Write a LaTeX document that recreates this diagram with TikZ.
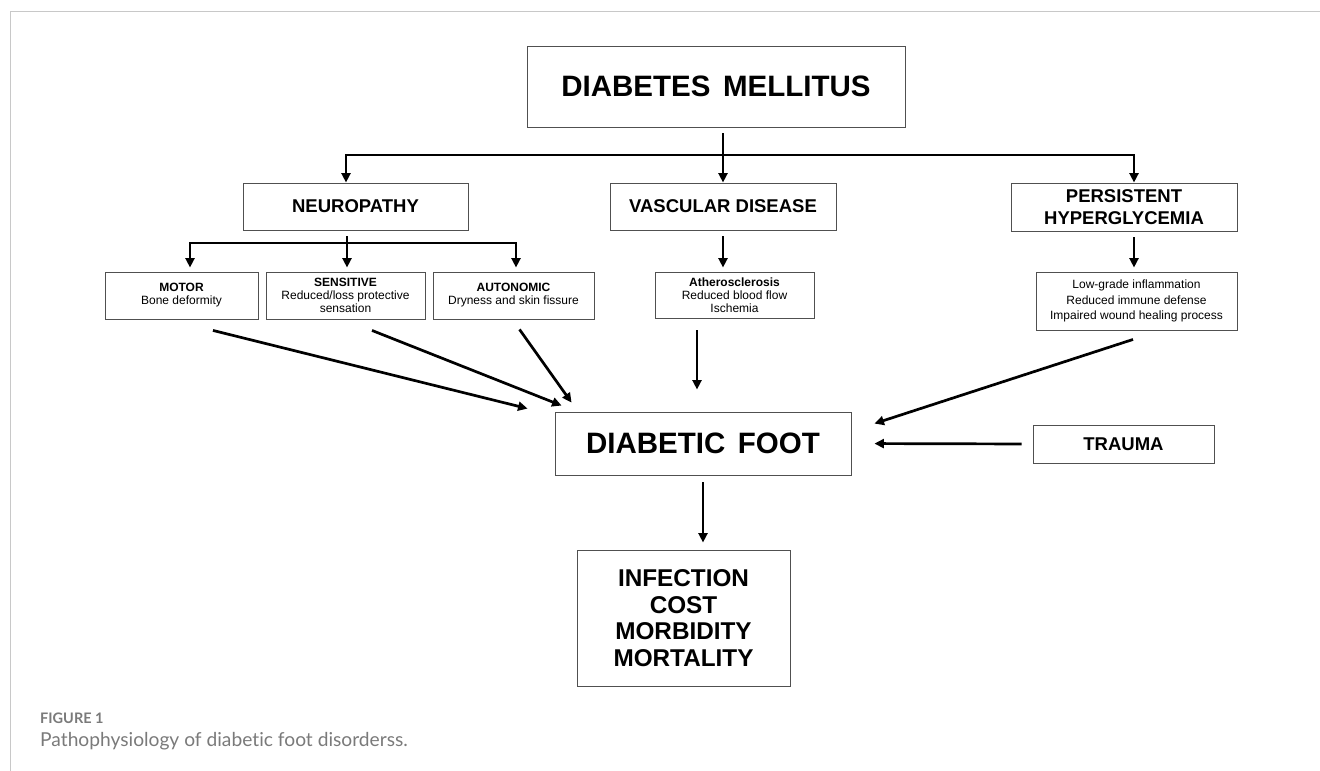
\documentclass[tikz,border=0pt]{standalone}
\usepackage{fontspec}
\setmainfont{Liberation Sans}
\newfontfamily\captionfont[Ligatures=NoCommon]{Lato}
\usetikzlibrary{arrows.meta}
\definecolor{framegray}{HTML}{C8C8C8}
\definecolor{boxgray}{HTML}{505050}
\definecolor{captiongray}{HTML}{7A7A7A}
\newcommand{\setfs}[2]{\fontsize{#1}{#2}\selectfont}
\tikzset{%
  every node/.style={
    inner sep=1pt
  },
  box/.style={draw=boxgray, line width=0.9pt, align=center},
  bigbox/.style={box, font=\setfs{29.5}{32}\bfseries},
  midbox/.style={box, font=\setfs{18.5}{22.5}\bfseries},
  smallbox/.style={box, font=\setfs{12}{13}},
  conn/.style={line width=2.7pt},
  bus/.style={conn, line cap=rect},
  arr/.style={conn, -{Triangle[length=9.5pt,width=9pt]}}
}

\begin{document}
\begin{tikzpicture}[x=1pt, y=-1pt]
  \useasboundingbox (0,0) rectangle (1320,771);
  \draw[framegray, line width=1pt] (10,771) -- (10,11) -- (1320,11);

  % boxes
  \node[bigbox, minimum width=378pt, minimum height=81pt] at (716,86.5) (dm) {DIABETES\hspace{0.15em} MELLITUS};
  \node[midbox, minimum width=225pt, minimum height=47pt] at (355.5,206.5) (neuro) {NEUROPATHY};
  \node[midbox, minimum width=226pt, minimum height=47pt] at (723,206.5) (vasc) {VASCULAR DISEASE};
  \node[midbox, minimum width=226pt, minimum height=48pt] at (1124,207) (pers) {PERSISTENT\\HYPERGLYCEMIA};
  \node[smallbox, minimum width=153pt, minimum height=47pt] at (181.5,295.5) (motor) {{\bfseries MOTOR}\\Bone deformity};
  \node[smallbox, minimum width=159pt, minimum height=47pt] at (345.5,295.5) (sens) {{\bfseries SENSITIVE}\\Reduced/loss protective\\sensation};
  \node[smallbox, minimum width=161pt, minimum height=47pt] at (513.5,295.5) (auto) {{\bfseries AUTONOMIC}\\Dryness and skin fissure};
  \node[smallbox, minimum width=159pt, minimum height=46pt] at (734.5,295) (ather) {{\bfseries Atherosclerosis}\\Reduced blood flow\\Ischemia};
  \node[smallbox, minimum width=201pt, minimum height=58pt, font=\setfs{12}{15.5}] at (1136.5,301) (lowg) {Low-grade inflammation\\Reduced immune defense\\Impaired wound healing process};
  \node[bigbox, minimum width=296pt, minimum height=63pt] at (703,443.5) (foot) {DIABETIC\hspace{0.15em} FOOT};
  \node[midbox, minimum width=181pt, minimum height=38pt] at (1123.5,444) (trauma) {TRAUMA};
  \node[box, font=\setfs{24.3}{26.7}\bfseries, minimum width=213pt, minimum height=136pt] at (683.5,618) (outc) {INFECTION\\COST\\MORBIDITY\\MORTALITY};

  % tree
  \coordinate (busl) at (346,155);
  \coordinate (busm) at (723,155);
  \coordinate (busr) at (1134,155);
  \draw[bus] (busl) -- (busr);
  \draw[arr, shorten <=6pt] (dm.south -| busm) -- (vasc.north);
  \draw[arr] (busl) -- (neuro.north -| busl);
  \draw[arr] (busr) -- (pers.north -| busr);

  \coordinate (nbusl) at (190,243);
  \coordinate (nbusm) at (347,243);
  \coordinate (nbusr) at (516,243);
  \draw[bus] (nbusl) -- (nbusr);
  \draw[conn, shorten <=6pt] (neuro.south -| nbusm) -- (nbusm);
  \draw[arr, shorten >=4pt] (nbusl) -- (motor.north -| nbusl);
  \draw[arr, shorten >=4pt] (nbusm) -- (sens.north -| nbusm);
  \draw[arr, shorten >=4pt] (nbusr) -- (auto.north -| nbusr);

  \draw[arr, shorten <=6pt, shorten >=4pt] (vasc.south) -- (vasc.south |- ather.north);
  \draw[arr, shorten <=6pt, shorten >=4pt] (pers.south -| busr) -- (lowg.north -| busr);

  % into diabetic foot
  \draw[arr] ([shift={(31.5,11)}]motor.south) -- ([shift={(-27,-3)}]foot.north west);
  \draw[arr] ([shift={(26.5,11)}]sens.south) -- ([shift={(7,-6)}]foot.north west);
  \draw[arr] ([shift={(6,10)}]auto.south) -- ([shift={(17,-9)}]foot.north west);
  \draw[arr] ([shift={(-37.5,12)}]ather.south) -- ([shift={(-6,-22)}]foot.north);
  \draw[arr] ([shift={(-3.5,9)}]lowg.south) -- ([shift={(23,12)}]foot.north east);
  \draw[arr, shorten <=11pt, shorten >=23pt] (trauma.west) -- (foot.east);
  \draw[arr, shorten <=7pt, shorten >=7pt] (foot.south) -- (foot.south |- outc.north);

  % caption
  \node[anchor=base west, inner sep=0pt, font=\captionfont\bfseries\setfs{14.5}{16}, text=captiongray] at (40,723) (fig) {FIGURE 1};
  \node[anchor=base west, inner sep=0pt, font=\captionfont\setfs{19.2}{21}, text=captiongray] at (40,746) (cap) {Pathophysiology of diabetic foot disorderss.};
\end{tikzpicture}
\end{document}
